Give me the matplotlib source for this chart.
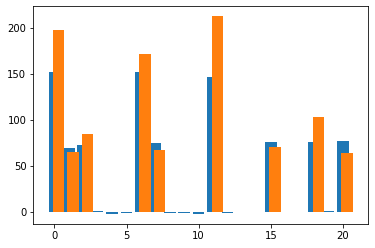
import numpy as np
import matplotlib.pyplot as plt

x = np.arange(21)
blue = [152, 70, 73, 1.5, -2, -1, 152, 75, -1, -1, -2, 147, -1, 0, 0, 76, 0, 0, 76, 1.3, 77]
orange = [198, 65, 85, 0, 0, 0, 172, 67.5, 0, 0, 0, 213, 0, 0, 0, 71, 0, 0, 103, 0, 64]

fig = plt.figure(figsize=(375 / 72, 248 / 72), dpi=72)
ax = fig.add_axes([0.089, 0.097, 0.893, 0.879])

ax.bar(x, blue, color="#1f77b4")
ax.bar(x + 0.3, orange, color="#ff7f0e")
ax.set_xticks([0, 5, 10, 15, 20])
ax.set_yticks([0, 50, 100, 150, 200])

fig.savefig("out.png", dpi=72)
